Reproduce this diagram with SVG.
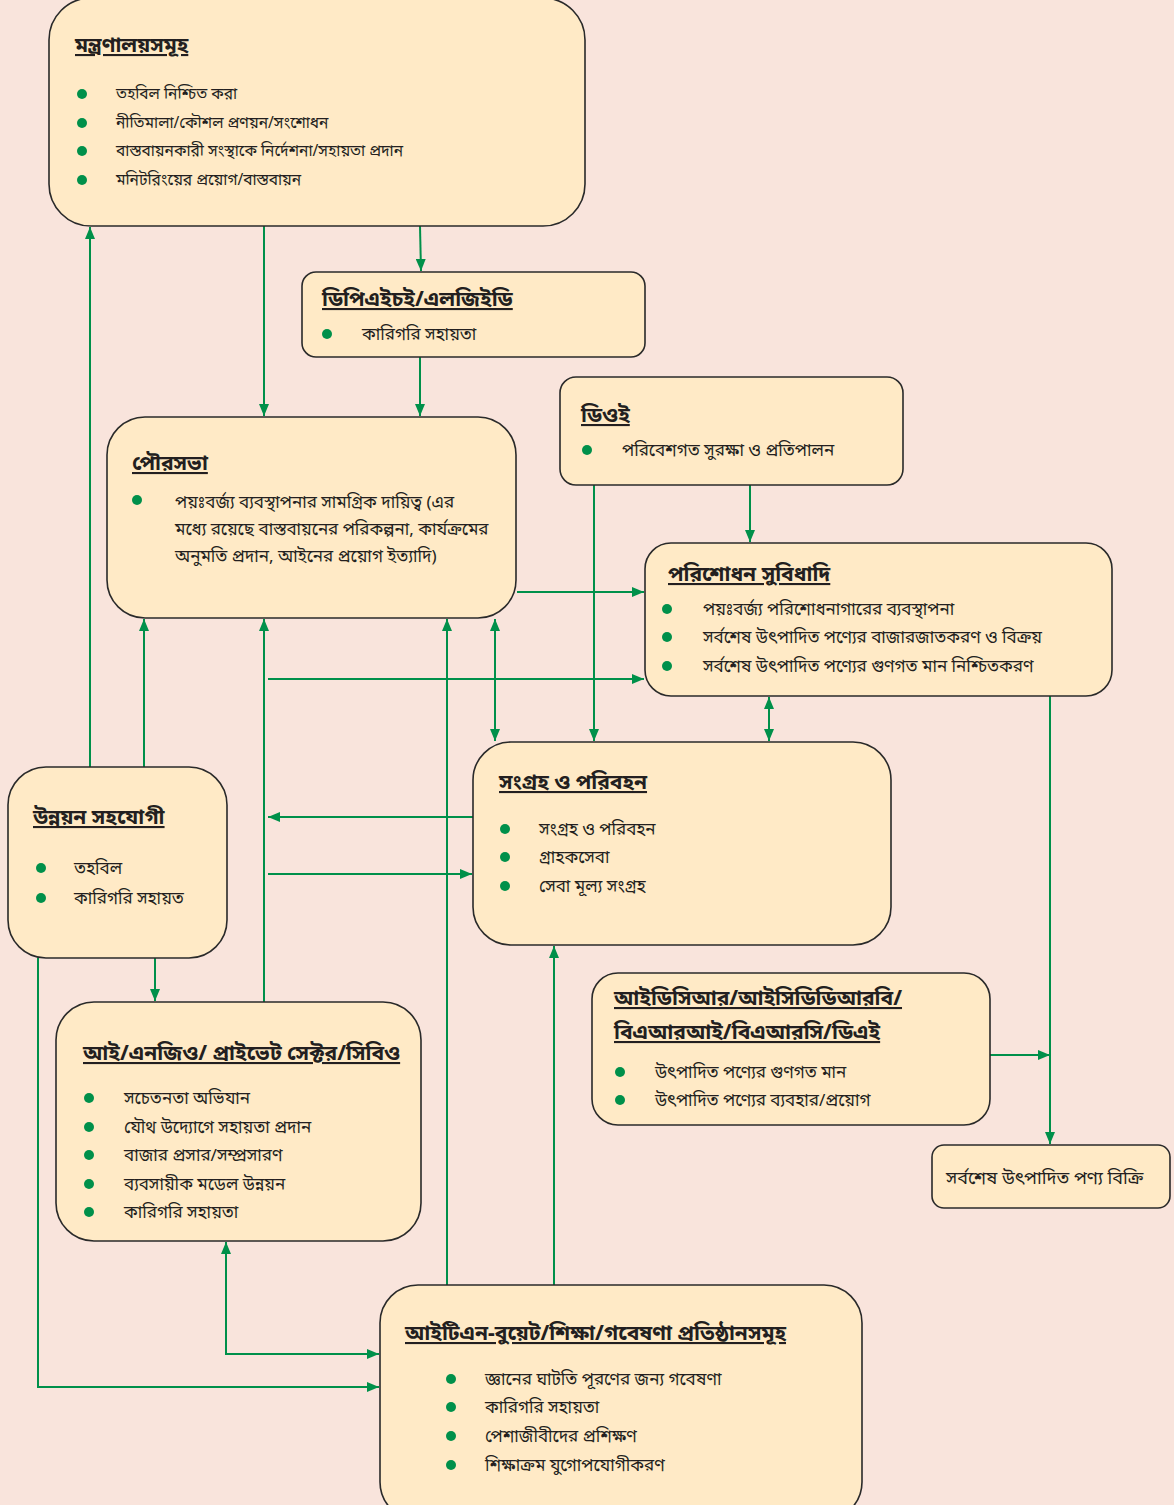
<svg xmlns="http://www.w3.org/2000/svg" width="1174" height="1505" viewBox="0 0 1174 1505">
<style>
.box{fill:#ffeac6;stroke:#2a2a2a;stroke-width:1.6}
.t{font-family:"Noto Sans Bengali","Noto Sans","Liberation Sans",sans-serif;font-size:21px;font-weight:bold;fill:#231f20;text-decoration:underline}
.b{font-family:"Noto Sans Bengali","Noto Sans","Liberation Sans",sans-serif;font-size:17px;fill:#231f20}
.s{font-size:15.5px}
.d{fill:#00904a}
.c{stroke:#00904a;stroke-width:2;fill:none}
</style>
<defs>
<marker id="ah" viewBox="0 0 12 10" refX="12" refY="5" markerWidth="12" markerHeight="10" markerUnits="userSpaceOnUse" orient="auto-start-reverse">
<path d="M0,0 L12,5 L0,10 z" fill="#00904a"/>
</marker>
</defs>
<rect width="1174" height="1505" fill="#f9e4dc"/>

<g id="connectors">
<path class="c" d="M264,226 V416" marker-end="url(#ah)"/>
<path class="c" d="M420,226 L421,271" marker-end="url(#ah)"/>
<path class="c" d="M420,357 V416" marker-end="url(#ah)"/>
<path class="c" d="M750,485 V542" marker-end="url(#ah)"/>
<path class="c" d="M594,485 V741" marker-end="url(#ah)"/>
<path class="c" d="M517,592 H644" marker-end="url(#ah)"/>
<path class="c" d="M268,679 H644" marker-end="url(#ah)"/>
<path class="c" d="M495,619 V741" marker-start="url(#ah)" marker-end="url(#ah)"/>
<path class="c" d="M769,697 V741" marker-start="url(#ah)" marker-end="url(#ah)"/>
<path class="c" d="M1050,696 V1144" marker-end="url(#ah)"/>
<path class="c" d="M990,1055 H1050" marker-end="url(#ah)"/>
<path class="c" d="M473,817 H268" marker-end="url(#ah)"/>
<path class="c" d="M268,874 H472" marker-end="url(#ah)"/>
<path class="c" d="M90,767 V227" marker-end="url(#ah)"/>
<path class="c" d="M144,767 V619" marker-end="url(#ah)"/>
<path class="c" d="M264,1002 V619" marker-end="url(#ah)"/>
<path class="c" d="M447,1285 V619" marker-end="url(#ah)"/>
<path class="c" d="M554,1285 V946" marker-end="url(#ah)"/>
<path class="c" d="M155,958 V1001" marker-end="url(#ah)"/>
<path class="c" d="M38,958 V1387 H379" marker-end="url(#ah)"/>
<path class="c" d="M226,1242 V1354 H379" marker-start="url(#ah)" marker-end="url(#ah)"/>
</g>

<g id="n-ministries">
<rect class="box" x="49" y="-2" width="536" height="228" rx="42"/>
<text class="t" x="75" y="52">মন্ত্রণালয়সমূহ</text>
<circle class="d" cx="82" cy="94" r="5"/><text class="b s" x="116" y="99">তহবিল নিশ্চিত করা</text>
<circle class="d" cx="82" cy="123" r="5"/><text class="b s" x="116" y="128">নীতিমালা/কৌশল প্রণয়ন/সংশোধন</text>
<circle class="d" cx="82" cy="151" r="5"/><text class="b s" x="116" y="156">বাস্তবায়নকারী সংস্থাকে নির্দেশনা/সহায়তা প্রদান</text>
<circle class="d" cx="82" cy="180" r="5"/><text class="b s" x="116" y="185">মনিটরিংয়ের প্রয়োগ/বাস্তবায়ন</text>
</g>

<g id="n-dphe">
<rect class="box" x="302" y="272" width="343" height="85" rx="14"/>
<text class="t" x="322" y="306">ডিপিএইচই/এলজিইডি</text>
<circle class="d" cx="327" cy="334" r="5"/><text class="b" x="362" y="340">কারিগরি সহায়তা</text>
</g>

<g id="n-pourashava">
<rect class="box" x="107" y="417" width="409" height="201" rx="38"/>
<text class="t" x="132" y="470">পৌরসভা</text>
<circle class="d" cx="137" cy="500" r="5"/>
<text class="b" x="175" y="508">পয়ঃবর্জ্য ব্যবস্থাপনার সামগ্রিক দায়িত্ব (এর</text>
<text class="b" x="175" y="535">মধ্যে রয়েছে বাস্তবায়নের পরিকল্পনা, কার্যক্রমের</text>
<text class="b" x="175" y="562">অনুমতি প্রদান, আইনের প্রয়োগ ইত্যাদি)</text>
</g>

<g id="n-doe">
<rect class="box" x="560" y="377" width="343" height="108" rx="16"/>
<text class="t" x="581" y="422">ডিওই</text>
<circle class="d" cx="587" cy="450" r="5"/><text class="b" x="622" y="456">পরিবেশগত সুরক্ষা ও প্রতিপালন</text>
</g>

<g id="n-treatment">
<rect class="box" x="645" y="543" width="467" height="153" rx="26"/>
<text class="t" x="668" y="581">পরিশোধন সুবিধাদি</text>
<circle class="d" cx="667" cy="609" r="5"/><text class="b" x="703" y="615">পয়ঃবর্জ্য পরিশোধনাগারের ব্যবস্থাপনা</text>
<circle class="d" cx="667" cy="637" r="5"/><text class="b" x="703" y="643">সর্বশেষ উৎপাদিত পণ্যের বাজারজাতকরণ ও বিক্রয়</text>
<circle class="d" cx="667" cy="666" r="5"/><text class="b" x="703" y="672">সর্বশেষ উৎপাদিত পণ্যের গুণগত মান নিশ্চিতকরণ</text>
</g>

<g id="n-dev-partners">
<rect class="box" x="8" y="767" width="219" height="191" rx="38"/>
<text class="t" x="33" y="824">উন্নয়ন সহযোগী</text>
<circle class="d" cx="41" cy="868" r="5"/><text class="b" x="74" y="874">তহবিল</text>
<circle class="d" cx="41" cy="898" r="5"/><text class="b" x="74" y="904">কারিগরি সহায়ত</text>
</g>

<g id="n-collection">
<rect class="box" x="473" y="742" width="418" height="203" rx="38"/>
<text class="t" x="499" y="789">সংগ্রহ ও পরিবহন</text>
<circle class="d" cx="505" cy="829" r="5"/><text class="b" x="539" y="835">সংগ্রহ ও পরিবহন</text>
<circle class="d" cx="505" cy="857" r="5"/><text class="b" x="539" y="863">গ্রাহকসেবা</text>
<circle class="d" cx="505" cy="886" r="5"/><text class="b" x="539" y="892">সেবা মূল্য সংগ্রহ</text>
</g>

<g id="n-research-bodies">
<rect class="box" x="592" y="973" width="398" height="152" rx="26"/>
<text class="t" x="614" y="1005">আইডিসিআর/আইসিডিডিআরবি/</text>
<text class="t" x="614" y="1039">বিএআরআই/বিএআরসি/ডিএই</text>
<circle class="d" cx="620" cy="1072" r="5"/><text class="b" x="655" y="1078">উৎপাদিত পণ্যের গুণগত মান</text>
<circle class="d" cx="620" cy="1100" r="5"/><text class="b" x="655" y="1106">উৎপাদিত পণ্যের ব্যবহার/প্রয়োগ</text>
</g>

<g id="n-sale">
<rect class="box" x="932" y="1145" width="238" height="63" rx="12"/>
<text class="b" x="946" y="1184" style="font-size:18px">সর্বশেষ উৎপাদিত পণ্য বিক্রি</text>
</g>

<g id="n-ngo">
<rect class="box" x="56" y="1002" width="365" height="239" rx="38"/>
<text class="t" x="83" y="1060">আই/এনজিও/ প্রাইভেট সেক্টর/সিবিও</text>
<circle class="d" cx="89" cy="1098" r="5"/><text class="b" x="124" y="1104">সচেতনতা অভিযান</text>
<circle class="d" cx="89" cy="1127" r="5"/><text class="b" x="124" y="1133">যৌথ উদ্যোগে সহায়তা প্রদান</text>
<circle class="d" cx="89" cy="1155" r="5"/><text class="b" x="124" y="1161">বাজার প্রসার/সম্প্রসারণ</text>
<circle class="d" cx="89" cy="1184" r="5"/><text class="b" x="124" y="1190">ব্যবসায়ীক মডেল উন্নয়ন</text>
<circle class="d" cx="89" cy="1212" r="5"/><text class="b" x="124" y="1218">কারিগরি সহায়তা</text>
</g>

<g id="n-itn">
<rect class="box" x="380" y="1285" width="482" height="235" rx="38"/>
<text class="t" x="405" y="1340">আইটিএন-বুয়েট/শিক্ষা/গবেষণা প্রতিষ্ঠানসমূহ</text>
<circle class="d" cx="451" cy="1379" r="5"/><text class="b" x="485" y="1385">জ্ঞানের ঘাটতি পূরণের জন্য গবেষণা</text>
<circle class="d" cx="451" cy="1407" r="5"/><text class="b" x="485" y="1413">কারিগরি সহায়তা</text>
<circle class="d" cx="451" cy="1436" r="5"/><text class="b" x="485" y="1442">পেশাজীবীদের প্রশিক্ষণ</text>
<circle class="d" cx="451" cy="1465" r="5"/><text class="b" x="485" y="1471">শিক্ষাক্রম যুগোপযোগীকরণ</text>
</g>
</svg>
